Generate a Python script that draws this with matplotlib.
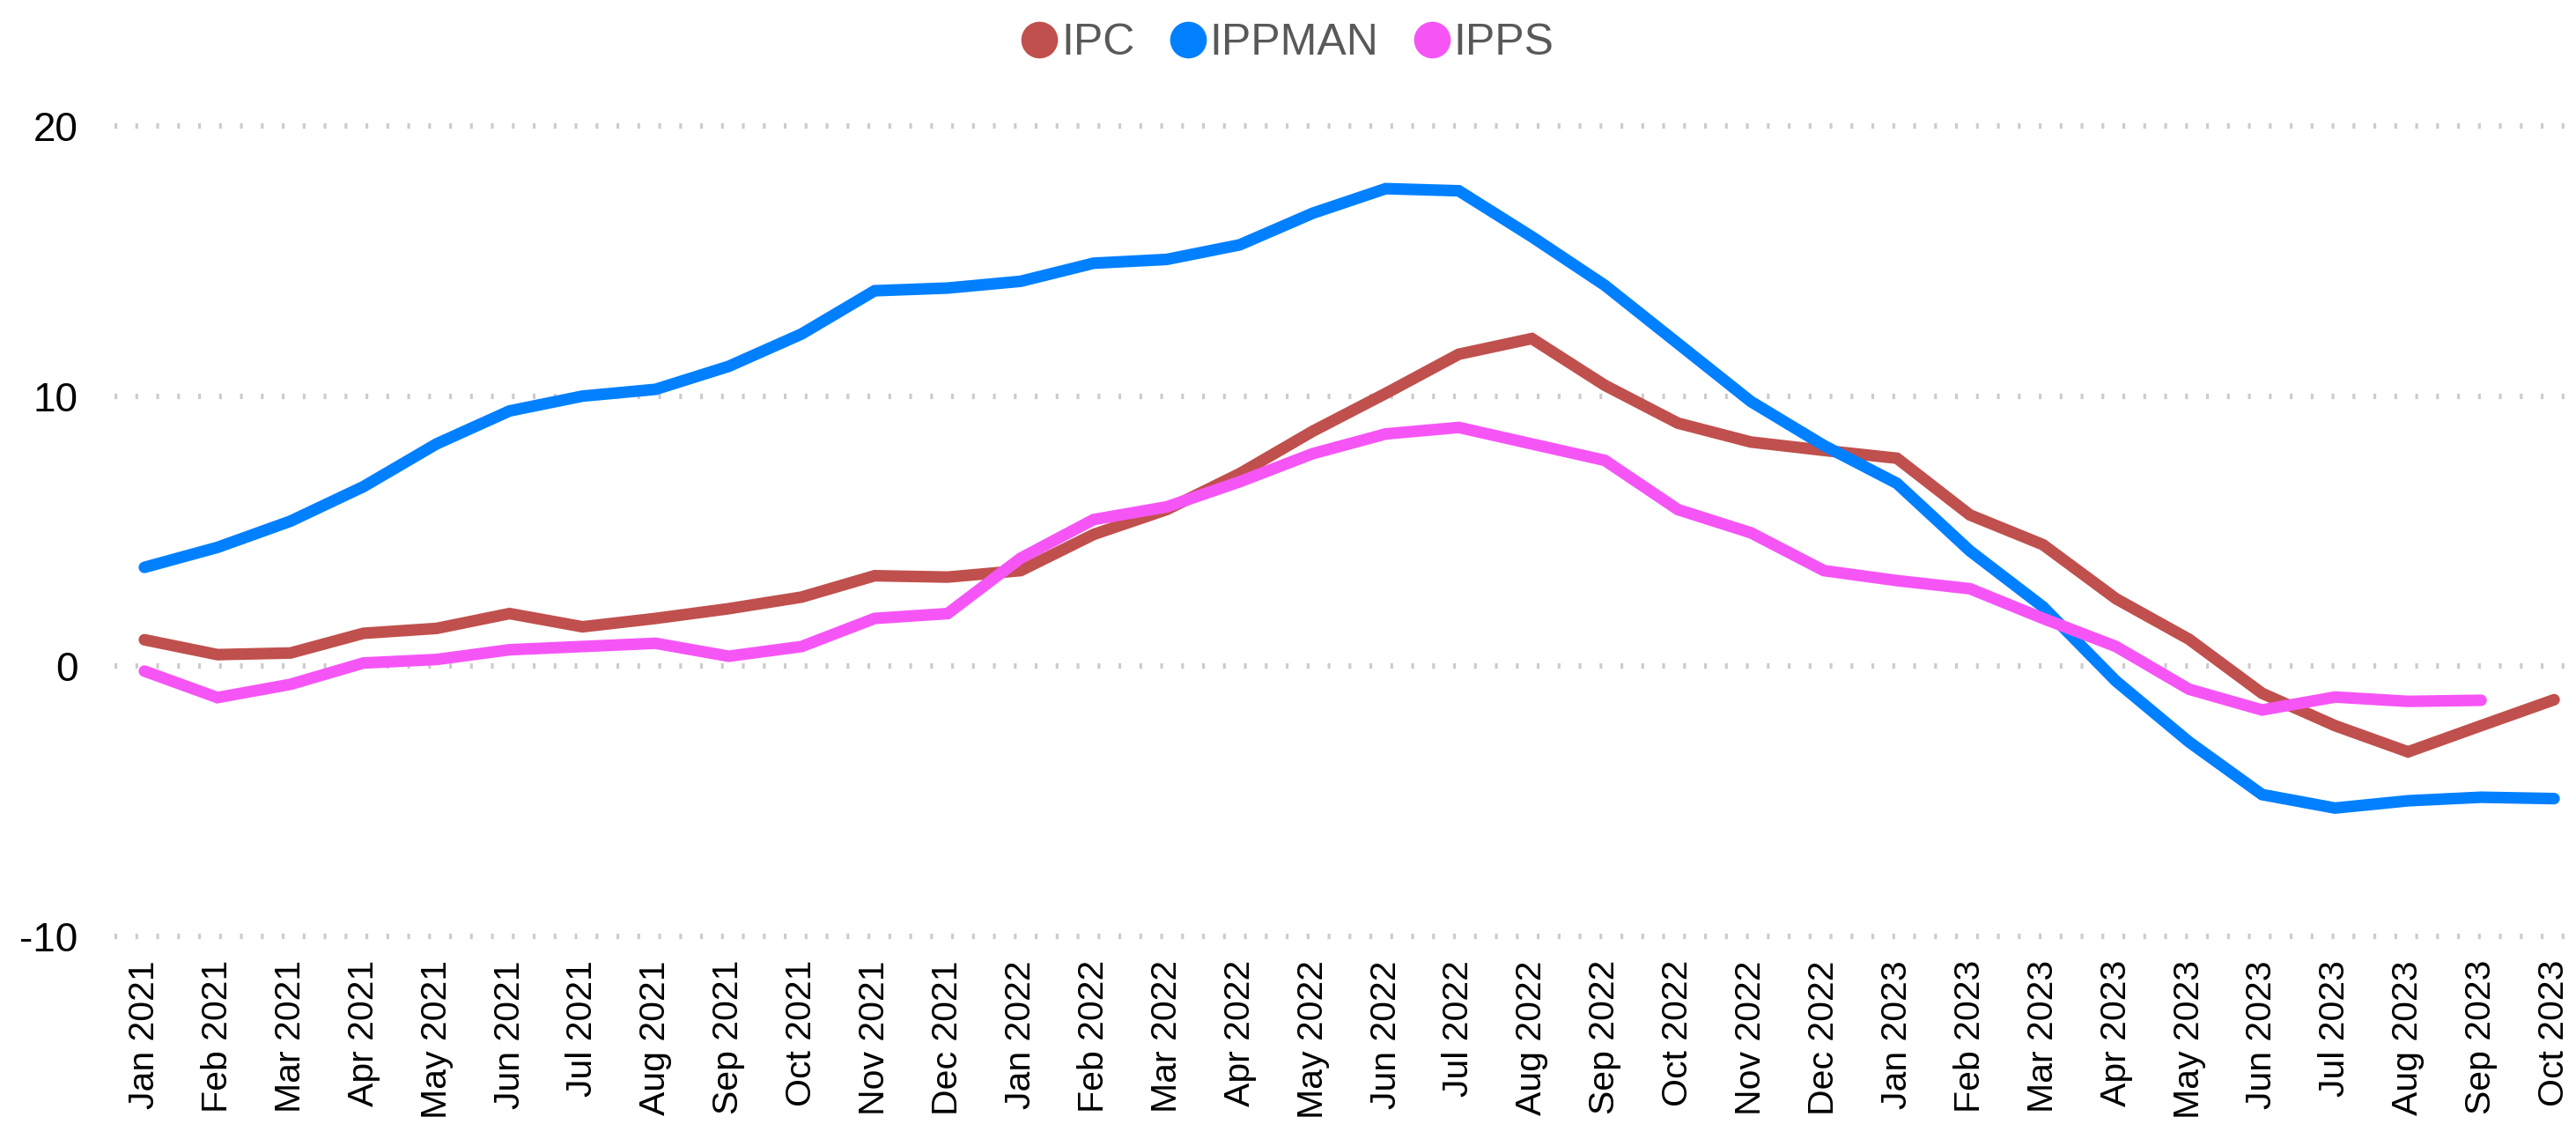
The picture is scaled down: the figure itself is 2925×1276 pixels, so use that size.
import matplotlib
matplotlib.use("Agg")
import matplotlib.pyplot as plt
from matplotlib.lines import Line2D
import numpy as np

months = ["Jan", "Feb", "Mar", "Apr", "May", "Jun", "Jul", "Aug", "Sep", "Oct", "Nov", "Dec"]
categories = [f"{m} {y}" for y in (2021, 2022, 2023) for m in months][:34]

ipc = [0.98, 0.43, 0.49, 1.22, 1.40, 1.95, 1.46, 1.77, 2.13, 2.56, 3.35, 3.30,
       3.54, 4.88, 5.80, 7.13, 8.70, 10.10, 11.55, 12.13, 10.40, 9.00, 8.30, 7.99,
       7.70, 5.60, 4.50, 2.50, 1.00, -1.00, -2.20, -3.17, -2.20, -1.24]
ippman = [3.66, 4.40, 5.37, 6.65, 8.23, 9.45, 10.00, 10.25, 11.10, 12.30, 13.90, 14.00,
          14.25, 14.92, 15.06, 15.60, 16.77, 17.68, 17.60, 15.90, 14.10, 11.95, 9.80, 8.17,
          6.77, 4.27, 2.20, -0.55, -2.80, -4.75, -5.25, -4.98, -4.85, -4.90]
ipps = [-0.18, -1.16, -0.67, 0.12, 0.25, 0.61, 0.73, 0.85, 0.37, 0.73, 1.77, 1.95,
        4.00, 5.43, 5.90, 6.83, 7.87, 8.60, 8.84, 8.23, 7.62, 5.80, 4.94, 3.54,
        3.17, 2.87, 1.77, 0.73, -0.85, -1.62, -1.14, -1.30, -1.26, np.nan]

series = [("IPC", ipc, "#C0504D"), ("IPPMAN", ippman, "#0080FF"), ("IPPS", ipps, "#F655F6")]
yticks = [-10, 0, 10, 20]

W, H = 2925, 1276
fig = plt.figure(figsize=(W / 100, H / 100), dpi=100)
ax = fig.add_axes([130 / W, 1 - 1063 / H, 1 - 130 / W, (1063 - 143) / H])

x = np.arange(len(categories))
for name, vals, color in series:
    ax.plot(x, vals, color=color, lw=9.5, solid_capstyle="round",
            solid_joinstyle="miter", clip_on=False, zorder=3)

ax.set_xlim(-0.41, 33.3)
ax.set_ylim(-10, 20)
ax.set_yticks(yticks)
ax.set_yticklabels([str(v) for v in yticks], fontfamily="Liberation Sans",
                   fontsize=33, color="black")
ax.set_xticks(x)
ax.set_xticklabels(categories, rotation=90, fontfamily="Liberation Sans",
                   fontsize=29.5, color="black", va="top", ha="center")
ax.tick_params(axis="y", length=0, pad=30)
ax.tick_params(axis="x", length=0, pad=19.5)

for v in yticks:
    ax.axhline(v, color="#cccccc", lw=4.5, linestyle=(0, (0.5, 3.3)),
               dash_capstyle="butt", zorder=1, clip_on=False)

for s in ax.spines.values():
    s.set_visible(False)

handles = [Line2D([], [], linestyle="none", marker="o", markersize=29,
                  markerfacecolor=c, markeredgecolor=c) for _, _, c in series]
fig.legend(handles, [n for n, _, _ in series], loc="center",
           bbox_to_anchor=(1460 / W, 1 - 49 / H), ncol=3, frameon=False,
           handletextpad=0.0, columnspacing=0.7, handlelength=1.0,
           prop={"family": "Liberation Sans", "size": 36}, labelcolor="#595959")

fig.savefig("out.png", dpi=100, facecolor="white")
